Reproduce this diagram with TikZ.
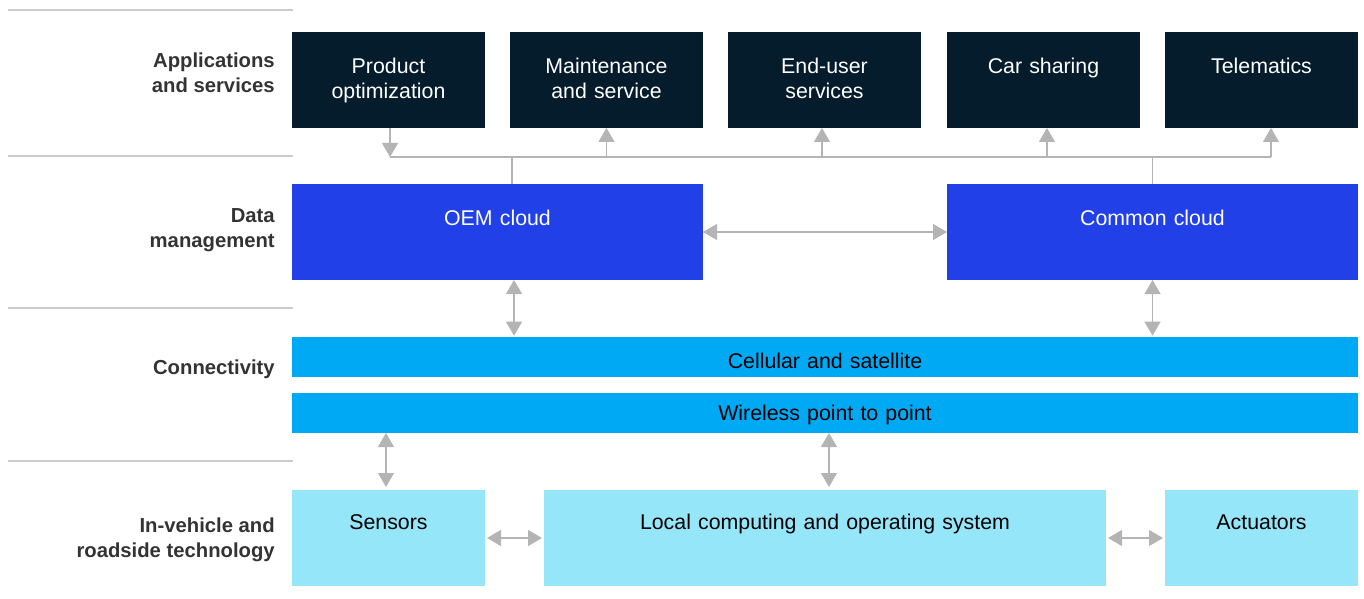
\documentclass[tikz,border=0pt]{standalone}
\usepackage{fontspec}
\setmainfont{Liberation Sans}
\usepackage{xcolor}
\definecolor{navyBox}{HTML}{051C2C}
\definecolor{cloudBlue}{HTML}{2140E8}
\definecolor{linkCyan}{HTML}{00A9F4}
\definecolor{deviceCyan}{HTML}{96E6FA}
\definecolor{arrowGray}{HTML}{B4B4B4}
\definecolor{ruleGray}{HTML}{CCCCCC}
\definecolor{labelText}{HTML}{333333}
\usetikzlibrary{
    arrows.meta,
    positioning
}
\tikzset{
    % Base style for all boxes
    box base/.style={
        font=\fontsize{16}{18.75}\selectfont,
        align=center,
        inner sep=0pt,
        outer sep=0pt,
        anchor=north west,
    },
    % Application boxes - dark, text at the top
    app/.style={
        box base,
        fill=navyBox,
        text=white,
        text width=144.75pt,
        text height=31.5pt,
        text depth=40.5pt,
    },
    % Cloud boxes - strong blue
    cloud/.style={
        box base,
        fill=cloudBlue,
        text=white,
        text width=308.25pt,
        text height=31.5pt,
        text depth=40.5pt,
    },
    % Connectivity bars, #1 = baseline below top
    link/.style={
        box base,
        fill=linkCyan,
        text=black,
        text width=799.5pt,
        text height=#1,
        text depth=30pt-#1,
    },
    % In-vehicle boxes - light cyan
    device/.style={
        box base,
        fill=deviceCyan,
        text=black,
        text width=#1,
        text height=29.25pt,
        text depth=42.75pt,
    },
    % Layer names on the left
    layer label/.style={
        font=\fontsize{15.2}{18.75}\selectfont\bfseries,
        text=labelText,
        align=right,
        anchor=east,
        inner sep=0pt,
    },
    layer rule/.style={
        draw=ruleGray,
        line width=1.1pt,
    },
    % Gray connectors
    bus line/.style={
        draw=arrowGray,
        line width=0.9pt,
    },
    arrow/.style={
        bus line,
        -{Triangle[length=10.5pt, width=12pt]},
    },
    arrow both/.style={
        bus line,
        {Triangle[length=10.5pt, width=12pt]}-{Triangle[length=10.5pt, width=12pt]},
    },
}

\begin{document}
\begin{tikzpicture}[x=0.75pt, y=-0.75pt]
    \useasboundingbox (0,0) rectangle (1364,599);

    % layer rules and names
    \foreach \y in {10,156,308,461}
        \draw[layer rule] (8,\y) -- (293,\y);
    \node (lblApps) [layer label] at (275,73) {Applications\\and services};
    \node (lblData) [layer label] at (275,230) {Data\\management};
    \node (lblConn) [layer label] at (275,369) {Connectivity};
    \node (lblVeh) [layer label] at (275,540) {In-vehicle and\\roadside technology};

    % applications and services
    \node (prod) [app] at (292,32) {Product\\optimization};
    \node (maint) [app, right=18.75pt of prod] {Maintenance\\and service};
    \node (enduser) [app, right=18.75pt of maint] {End-user\\services};
    \node (carshare) [app, right=19.5pt of enduser] {Car sharing};
    \node (telem) [app, right=18.75pt of carshare] {Telematics};

    % data management
    \node (oem) [cloud] at (292,184) {OEM cloud};
    \node (common) [cloud, right=183pt of oem] {Common cloud};

    % connectivity
    \node (cell) [link=23.8pt] at (292,337) {Cellular and satellite};
    \node (wifi) [link=20.6pt, below=12pt of cell] {Wireless point to point};

    % in-vehicle and roadside technology
    \node (sensors) [device=144.75pt] at (292,490) {Sensors};
    \node (local) [device=421.5pt, right=44.25pt of sensors] {Local computing and operating system};
    \node (act) [device=144.75pt, right=44.25pt of local] {Actuators};

    % bus between apps and clouds
    \coordinate (busL) at (390,157);
    \coordinate (busR) at (1271,157);
    \draw[bus line] (busL) -- (busR);
    \draw[arrow] (busL |- prod.south) -- (busL);
    \draw[arrow] (maint.south |- busL) -- (maint.south);
    \draw[arrow] ([xshift=-1.9pt]enduser.south |- busL) -- ([xshift=-1.9pt]enduser.south);
    \draw[arrow] ([xshift=2.6pt]carshare.south |- busL) -- ([xshift=2.6pt]carshare.south);
    \draw[arrow] (busR) -- (busR |- telem.south);
    \draw[bus line] ([xshift=10.9pt]oem.north) -- ([xshift=10.9pt]oem.north |- busL);
    \draw[bus line] (common.north) -- (common.north |- busL);

    % clouds and connectivity
    \draw[arrow both] (oem) -- (common);
    \draw[arrow both, shorten >=1pt] ([xshift=12.4pt]oem.south) -- ([xshift=12.4pt]oem.south |- cell.north);
    \draw[arrow both, shorten >=1pt] (common.south) -- (common.south |- cell.north);

    % connectivity and vehicle
    \draw[arrow both, shorten >=2.25pt] ([xshift=-1.9pt]sensors.north |- wifi.south) -- ([xshift=-1.9pt]sensors.north);
    \draw[arrow both, shorten >=2.25pt] ([xshift=3pt]local.north |- wifi.south) -- ([xshift=3pt]local.north);
    \draw[arrow both, shorten >=1.5pt, shorten <=1.5pt] (sensors) -- (local);
    \draw[arrow both, shorten >=1.5pt, shorten <=1.5pt] (local) -- (act);
\end{tikzpicture}
\end{document}
